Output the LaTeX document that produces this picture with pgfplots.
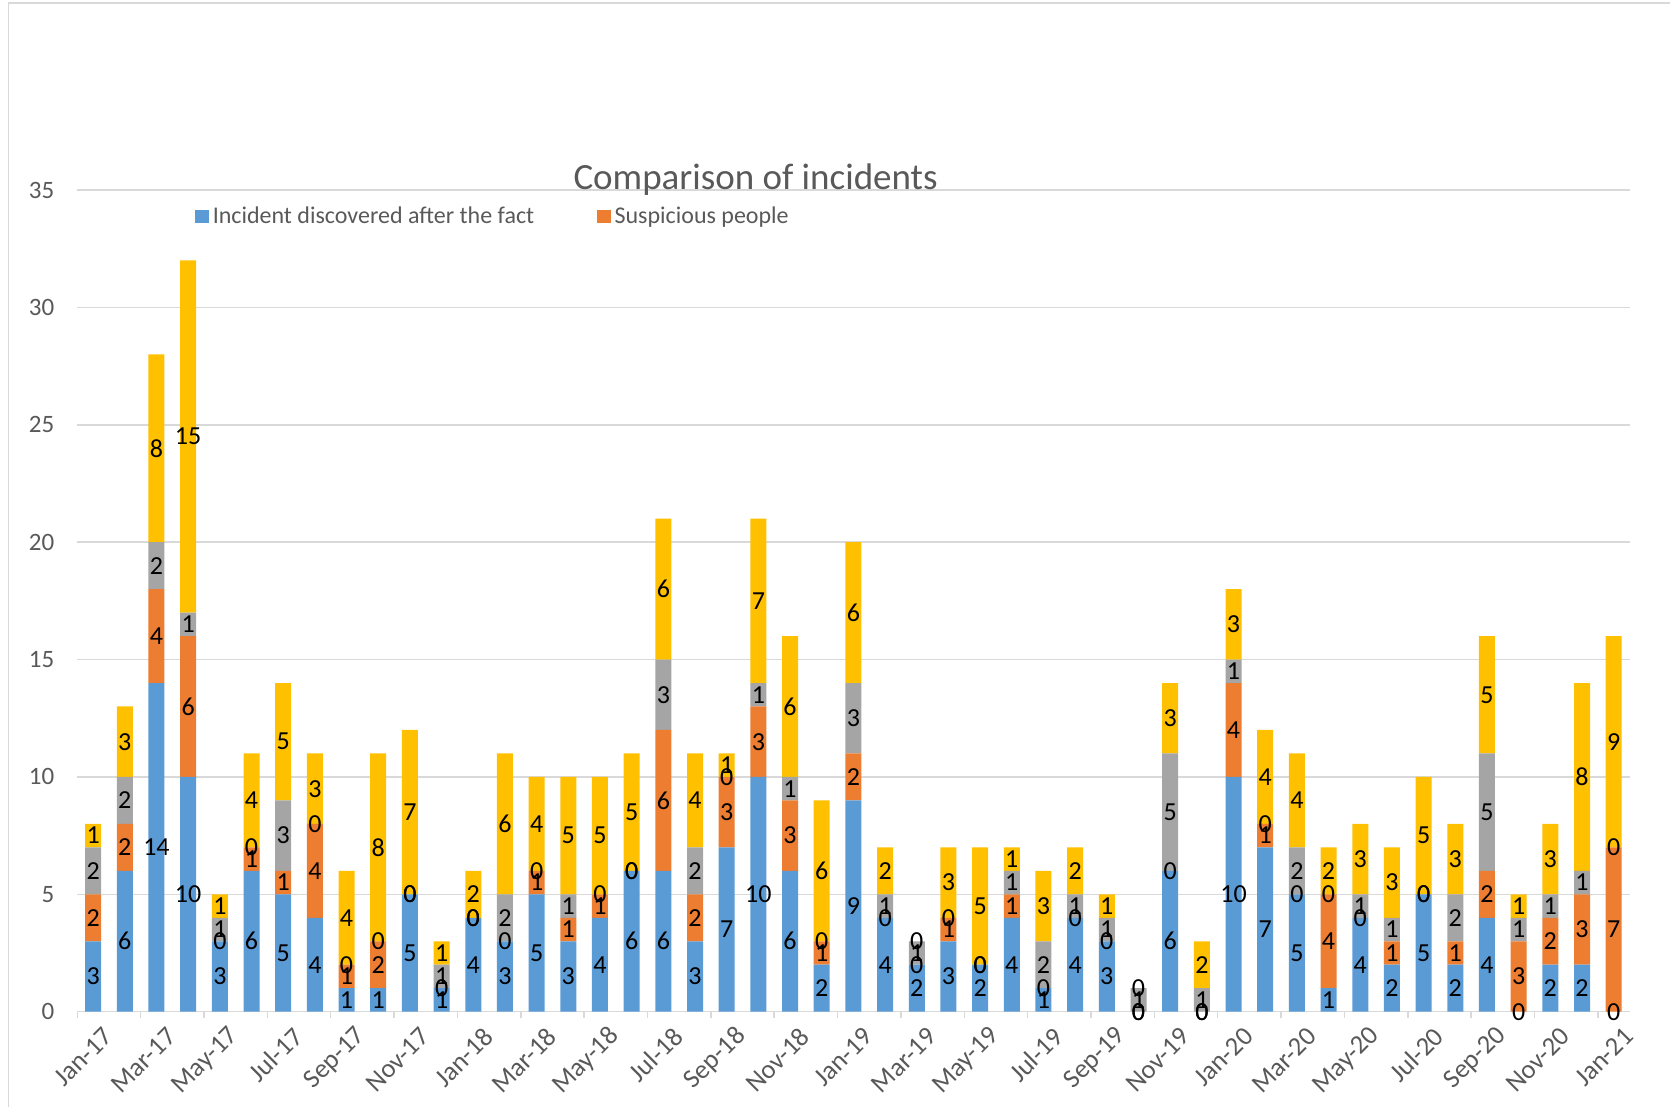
\documentclass[border=0pt]{standalone}
\usepackage{pgfplots}
\usepackage{pgfplotstable}
\pgfplotsset{compat=1.18}
\usepackage{fontspec}
\setmainfont{Carlito}
\definecolor{cblue}{HTML}{5B9BD5}
\definecolor{corange}{HTML}{ED7D31}
\definecolor{cgray}{HTML}{A5A5A5}
\definecolor{cyellow}{HTML}{FFC000}
\definecolor{gridgray}{HTML}{D9D9D9}
\definecolor{txtgray}{HTML}{595959}

\pgfplotstableread{
x b o g yl
0 3 2 2 1
1 6 2 2 3
2 14 4 2 8
3 10 6 1 15
4 3 0 1 1
5 6 1 0 4
6 5 1 3 5
7 4 4 0 3
8 1 1 0 4
9 1 2 0 8
10 5 0 0 7
11 1 0 1 1
12 4 0 0 2
13 3 0 2 6
14 5 1 0 4
15 3 1 1 5
16 4 1 0 5
17 6 0 0 5
18 6 6 3 6
19 3 2 2 4
20 7 3 0 1
21 10 3 1 7
22 6 3 1 6
23 2 1 0 6
24 9 2 3 6
25 4 0 1 2
26 2 0 1 0
27 3 1 0 3
28 2 0 0 5
29 4 1 1 1
30 1 0 2 3
31 4 0 1 2
32 3 0 1 1
33 0 0 1 0
34 6 0 5 3
35 0 0 1 2
36 10 4 1 3
37 7 1 0 4
38 5 0 2 4
39 1 4 0 2
40 4 0 1 3
41 2 1 1 3
42 5 0 0 5
43 2 1 2 3
44 4 2 5 5
45 0 3 1 1
46 2 2 1 3
47 2 3 1 8
48 0 7 0 9
}\data
\pgfplotstablecreatecol[create col/expr={\thisrow{b}/2}]{mb}{\data}
\pgfplotstablecreatecol[create col/expr={\thisrow{b}+\thisrow{o}/2}]{mo}{\data}
\pgfplotstablecreatecol[create col/expr={\thisrow{b}+\thisrow{o}+\thisrow{g}/2}]{mg}{\data}
\pgfplotstablecreatecol[create col/expr={\thisrow{b}+\thisrow{o}+\thisrow{g}+\thisrow{yl}/2}]{my}{\data}

\begin{document}
\begin{tikzpicture}
\begin{axis}[
  name=ax, at={(0pt,0pt)}, anchor=south west,
  scale only axis, width=776.1pt, height=410.85pt,
  ybar stacked, bar width=8pt,
  xmin=-0.5, xmax=48.5, ymin=0, ymax=35,
  ytick={0,5,...,35},
  ymajorgrids, major grid style={draw=gridgray, line width=0.75pt},
  axis x line*=bottom, axis y line*=left,
  x axis line style={draw=gridgray, line width=0.75pt, -},
  y axis line style={draw=none},
  major tick length=0pt, tick align=outside,
  xtick style={draw=gridgray, line width=0.75pt},
  ytick style={draw=none},
  xtick={0,2,...,48},
  xticklabels={Jan-17,Mar-17,May-17,Jul-17,Sep-17,Nov-17,Jan-18,Mar-18,May-18,Jul-18,Sep-18,Nov-18,Jan-19,Mar-19,May-19,Jul-19,Sep-19,Nov-19,Jan-20,Mar-20,May-20,Jul-20,Sep-20,Nov-20,Jan-21},
  extra x ticks={-0.5,1.5,...,47.5},
  extra x tick labels={},
  extra x tick style={major tick length=3.3pt, grid=none},
  /pgf/number format/assume math mode=true,
  tick label style={font=\fontsize{12.5}{14}\selectfont, text=txtgray},
  xticklabel style={font=\fontsize{13.3}{15}\selectfont, rotate=45, anchor=east, xshift=1.6pt, yshift=-12.6pt},
  yticklabel style={xshift=-8pt},
  title={Comparison of incidents},
  every axis title/.style={at={(0.437,1)}, anchor=base, font=\fontsize{18.5}{22}\selectfont, text=txtgray},
  legend columns=2,
  legend style={at={(0.0758,0.9675)}, anchor=west, draw=none, fill=none, inner sep=0pt,
    font=\fontsize{12}{14}\selectfont, text=txtgray,
    /tikz/every even column/.append style={column sep=29.5pt}},
  legend image code/.code={\draw[#1, draw=none] (0pt,-3.35pt) rectangle (6.7pt,3.35pt);},
]
\addplot[fill=cblue, draw=none] table[x=x, y=b] {\data};
\addplot[fill=corange, draw=none] table[x=x, y=o] {\data};
\addplot[fill=cgray, draw=none] table[x=x, y=g] {\data};
\addplot[fill=cyellow, draw=none] table[x=x, y=yl] {\data};
\legend{Incident discovered after the fact, Suspicious people}
\end{axis}
\begin{axis}[
  at={(0pt,0pt)}, anchor=south west,
  scale only axis, width=776.1pt, height=410.85pt,
  xmin=-0.5, xmax=48.5, ymin=0, ymax=35,
  axis lines=none, clip=false,
  every node near coord/.append style={anchor=center, inner sep=0pt, text=black, font=\fontsize{13}{15}\selectfont},
]
\addplot[draw=none, mark=none, nodes near coords, point meta=explicit symbolic] table[x=x, y=mb, meta=b] {\data};
\addplot[draw=none, mark=none, nodes near coords, point meta=explicit symbolic] table[x=x, y=mo, meta=o] {\data};
\addplot[draw=none, mark=none, nodes near coords, point meta=explicit symbolic] table[x=x, y=mg, meta=g] {\data};
\addplot[draw=none, mark=none, nodes near coords, point meta=explicit symbolic] table[x=x, y=my, meta=yl] {\data};
\end{axis}
\pgfresetboundingbox
\path (ax.south west) ++(-38.65pt,-47.65pt) coordinate (bl);
\useasboundingbox (bl) rectangle ++(835pt,553.5pt);
\draw[gridgray, line width=0.75pt] ([xshift=4.15pt]bl) -- ++(0pt,552pt) -- ++(832pt,0pt);
\end{tikzpicture}
\end{document}
